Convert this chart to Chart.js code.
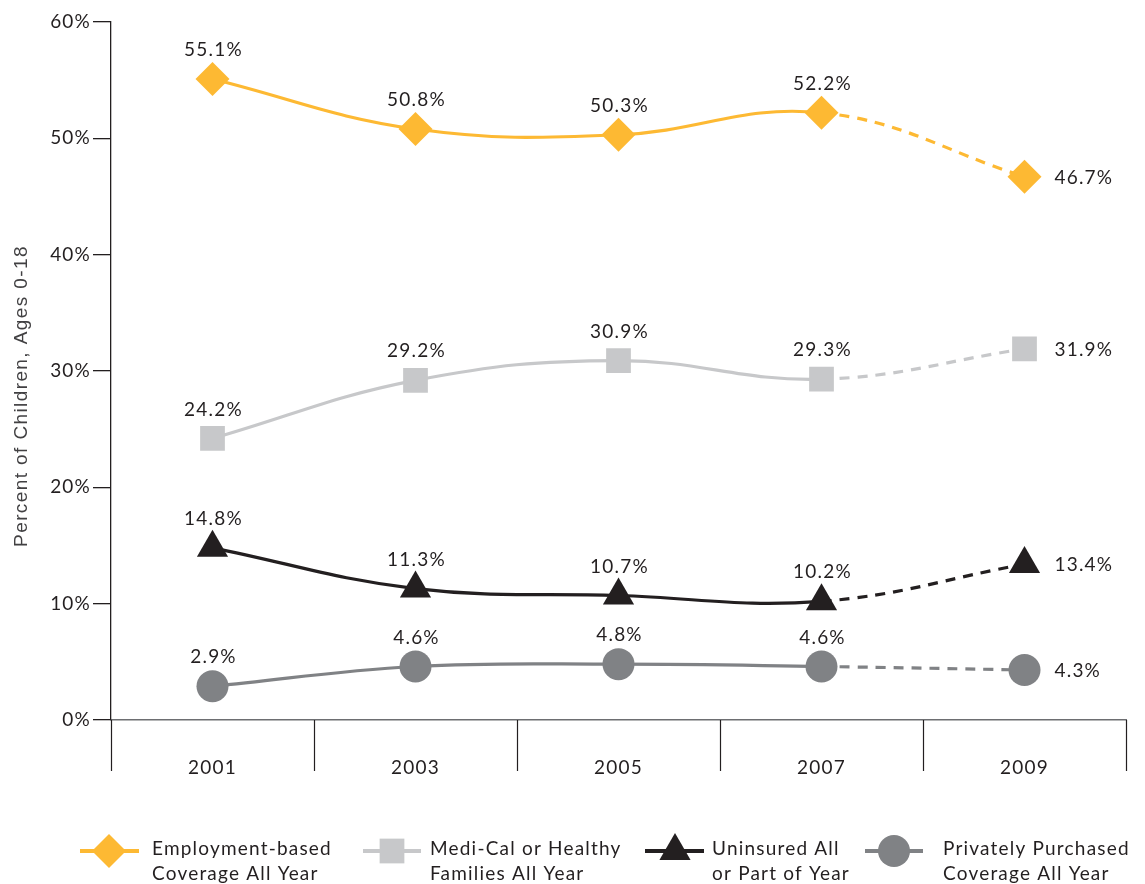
<!DOCTYPE html>
<html>
<head>
<meta charset="utf-8">
<script src="https://cdn.jsdelivr.net/npm/chart.js@4.4.1/dist/chart.umd.min.js"></script>
<style>
  html, body { margin: 0; padding: 0; background: #ffffff; }
  #wrap { width: 1145px; height: 884px; }
</style>
</head>
<body>
<div id="wrap"><canvas id="c" width="1145" height="884"></canvas></div>
<script>
// ---- data ----
const years = ['2001', '2003', '2005', '2007', '2009'];
const employment = [55.1, 50.8, 50.3, 52.2, 46.7];
const mediCal = [24.2, 29.2, 30.9, 29.3, 31.9];
const uninsured = [14.8, 11.3, 10.7, 10.2, 13.4];
const privatePurchased = [2.9, 4.6, 4.8, 4.6, 4.3];
const yTicks = [0, 10, 20, 30, 40, 50, 60];
const seriesNames = [
  ['Employment-based', 'Coverage All Year'],
  ['Medi-Cal or Healthy', 'Families All Year'],
  ['Uninsured All', 'or Part of Year'],
  ['Privately Purchased', 'Coverage All Year']
];
const yTitle = 'Percent of Children, Ages 0-18';

// ---- styles ----
const COLORS = ['#FDB933', '#C7C8CA', '#231F20', '#808285'];
const STYLES = ['rectRot', 'rect', 'triangle', 'circle'];
const RADII = [17, 17.5, 18, 16];
const TEXT = '#231F20';
const FONT = 'Lato, "Open Sans", sans-serif';
const FSIZE = 19;
const SPACING = '1.2px';

const dashAfter = (ctx) => ctx.p0DataIndex >= 3 ? [10, 8] : undefined;

function ds(label, data, i) {
  return {
    label: label.join(' '),
    data: data,
    borderColor: COLORS[i],
    backgroundColor: COLORS[i],
    pointBackgroundColor: COLORS[i],
    pointBorderColor: COLORS[i],
    pointBorderWidth: 0,
    pointStyle: STYLES[i],
    pointRadius: RADII[i],
    pointHoverRadius: RADII[i],
    borderWidth: 3.2,
    tension: 0.4,
    fill: false,
    segment: { borderDash: dashAfter }
  };
}

const spacing = {
  id: 'spacing',
  beforeDraw(chart) {
    chart.ctx.letterSpacing = SPACING;
  }
};

const dataLabels = {
  id: 'dataLabels',
  afterDatasetsDraw(chart) {
    const ctx = chart.ctx;
    ctx.save();
    ctx.letterSpacing = SPACING;
    ctx.font = FSIZE + 'px ' + FONT;
    ctx.fillStyle = TEXT;
    chart.data.datasets.forEach((d, di) => {
      const meta = chart.getDatasetMeta(di);
      meta.data.forEach((pt, i) => {
        const txt = d.data[i].toFixed(1) + '%';
        if (i === d.data.length - 1) {
          ctx.textAlign = 'left';
          ctx.textBaseline = 'middle';
          ctx.fillText(txt, pt.x + 30, pt.y + 1);
        } else {
          ctx.textAlign = 'center';
          ctx.textBaseline = 'middle';
          ctx.fillText(txt, pt.x + 1, pt.y - 29);
        }
      });
    });
    ctx.restore();
  }
};

const extras = {
  id: 'extras',
  afterDraw(chart) {
    const ctx = chart.ctx;
    const xs = chart.scales.x;
    const area = chart.chartArea;
    // category separators below the axis
    ctx.save();
    ctx.strokeStyle = TEXT;
    ctx.lineWidth = 1.2;
    const n = years.length;
    for (let i = 0; i <= n; i++) {
      const x = Math.round(xs.left + i * (xs.width / n)) + 0.5;
      ctx.beginPath();
      ctx.moveTo(x, area.bottom);
      ctx.lineTo(x, area.bottom + 51);
      ctx.stroke();
    }
    ctx.restore();

    // y-axis title
    ctx.save();
    ctx.translate(22, 396);
    ctx.rotate(-Math.PI / 2);
    ctx.letterSpacing = '1.4px';
    ctx.font = '19px "Liberation Sans", Arial, sans-serif';
    ctx.fillStyle = '#414042';
    ctx.textAlign = 'center';
    ctx.textBaseline = 'middle';
    ctx.fillText(yTitle, 0, 0);
    ctx.restore();

    // legend
    const items = [
      { x1: 80, x2: 139, m: 109, t: 152 },
      { x1: 363, x2: 421, m: 392, t: 430 },
      { x1: 645, x2: 704, m: 675, t: 712 },
      { x1: 865, x2: 923, m: 894, t: 943 }
    ];
    const ly = 851;
    items.forEach((it, i) => {
      ctx.save();
      ctx.strokeStyle = COLORS[i];
      ctx.fillStyle = COLORS[i];
      ctx.lineWidth = 4;
      ctx.beginPath();
      ctx.moveTo(it.x1, ly);
      ctx.lineTo(it.x2, ly);
      ctx.stroke();
      const r = RADII[i];
      ctx.beginPath();
      if (STYLES[i] === 'rectRot') {
        ctx.moveTo(it.m - r, ly); ctx.lineTo(it.m, ly - r);
        ctx.lineTo(it.m + r, ly); ctx.lineTo(it.m, ly + r);
        ctx.closePath();
      } else if (STYLES[i] === 'rect') {
        const s = r * Math.SQRT1_2;
        ctx.rect(it.m - s, ly - s, 2 * s, 2 * s);
      } else if (STYLES[i] === 'triangle') {
        const h = r * Math.sqrt(3) / 2;
        ctx.moveTo(it.m, ly - r);
        ctx.lineTo(it.m + h, ly + r / 2);
        ctx.lineTo(it.m - h, ly + r / 2);
        ctx.closePath();
      } else {
        ctx.arc(it.m, ly, r, 0, Math.PI * 2);
      }
      ctx.fill();
      ctx.letterSpacing = SPACING;
      ctx.font = FSIZE + 'px ' + FONT;
      ctx.fillStyle = TEXT;
      ctx.textAlign = 'left';
      ctx.textBaseline = 'middle';
      ctx.fillText(seriesNames[i][0], it.t, 849);
      ctx.fillText(seriesNames[i][1], it.t, 874);
      ctx.restore();
    });
  }
};

new Chart(document.getElementById('c'), {
  type: 'line',
  data: {
    labels: years,
    datasets: [
      ds(seriesNames[0], employment, 0),
      ds(seriesNames[1], mediCal, 1),
      ds(seriesNames[2], uninsured, 2),
      ds(seriesNames[3], privatePurchased, 3)
    ]
  },
  options: {
    responsive: false,
    animation: false,
    devicePixelRatio: 1,
    events: [],
    layout: { padding: { top: 22, right: 19, bottom: 94, left: 0 } },
    plugins: {
      legend: { display: false },
      tooltip: { enabled: false },
      title: { display: false }
    },
    scales: {
      x: {
        type: 'category',
        offset: true,
        grid: { display: true, drawOnChartArea: false, drawTicks: false, offset: true },
        border: { display: true, color: '#6D6E71', width: 1.5 },
        ticks: { color: TEXT, font: { family: FONT, size: FSIZE }, padding: 36, maxRotation: 0 },
        afterFit(s) { s.height = 70; }
      },
      y: {
        min: 0,
        max: 60,
        afterBuildTicks(s) { s.ticks = yTicks.map(v => ({ value: v })); },
        grid: { display: true, drawOnChartArea: false, drawTicks: true, tickLength: 18, color: TEXT, lineWidth: 1.3 },
        border: { display: true, color: TEXT, width: 1.3 },
        ticks: {
          color: TEXT,
          font: { family: FONT, size: FSIZE },
          padding: 2,
          callback: (v) => v + '%'
        },
        afterFit(s) { s.width = 111; }
      }
    }
  },
  plugins: [spacing, dataLabels, extras]
});
</script>
</body>
</html>
